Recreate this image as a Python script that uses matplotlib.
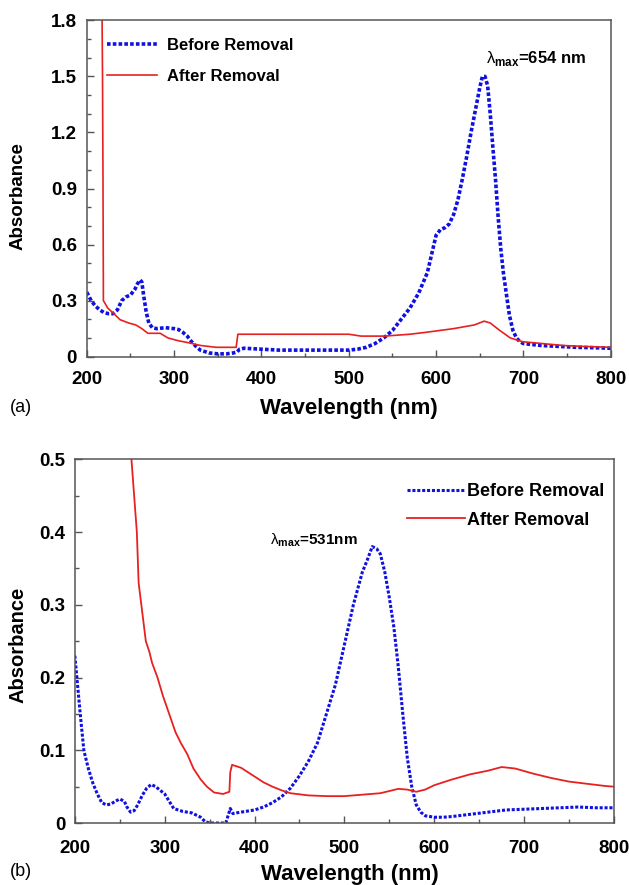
import matplotlib
matplotlib.use('Agg')
import matplotlib.pyplot as plt
from matplotlib.ticker import MultipleLocator

plt.rcParams['font.family'] = ['Liberation Sans', 'DejaVu Sans']
plt.rcParams['mathtext.fontset'] = 'custom'
plt.rcParams['mathtext.rm'] = 'Liberation Sans'
plt.rcParams['mathtext.bf'] = 'Liberation Sans:bold'

# panel (a)
before_a_wl = [200, 205, 210, 215, 220, 225, 230, 235, 240, 245, 250, 255, 258, 261, 263, 265, 268, 271,
               275, 280, 290, 300, 305, 310, 315, 320, 325, 330, 340, 350, 360, 368, 372, 375, 380, 400,
               420, 450, 480, 500, 510, 520, 530, 540, 550, 560, 570, 580, 590, 595, 600, 605, 610, 615,
               620, 625, 630, 635, 640, 645, 650, 653, 656, 659, 662, 665, 668, 671, 674, 677, 680, 684,
               688, 692, 696, 700, 710, 720, 740, 760, 780, 800]
before_a_abs = [0.345, 0.30, 0.27, 0.25, 0.235, 0.23, 0.23, 0.25, 0.30, 0.32, 0.33, 0.36, 0.39, 0.41, 0.40,
                0.33, 0.24, 0.18, 0.155, 0.15, 0.155, 0.15, 0.145, 0.13, 0.11, 0.08, 0.055, 0.035, 0.02,
                0.015, 0.015, 0.02, 0.025, 0.04, 0.045, 0.04, 0.035, 0.035, 0.035, 0.035, 0.04, 0.05, 0.07,
                0.1, 0.14, 0.2, 0.26, 0.34, 0.45, 0.55, 0.65, 0.68, 0.69, 0.71, 0.76, 0.84, 0.95, 1.07,
                1.2, 1.32, 1.44, 1.5, 1.5, 1.45, 1.3, 1.12, 0.95, 0.75, 0.58, 0.45, 0.35, 0.22, 0.14, 0.1,
                0.08, 0.07, 0.065, 0.06, 0.055, 0.05, 0.048, 0.045]
after_a_wl = [217.5, 218, 218.5, 219, 224, 231, 238, 248, 256, 263, 270, 284, 293, 305, 316, 330, 348, 371,
              373, 380, 420, 500, 514, 541, 570, 588, 620, 644, 655, 662, 673, 685, 699, 722, 745, 768, 800]
after_a_abs = [1.8, 1.5, 1.0, 0.3, 0.26, 0.23, 0.198, 0.18, 0.17, 0.15, 0.125, 0.125, 0.1, 0.085, 0.075,
               0.06, 0.05, 0.05, 0.12, 0.12, 0.12, 0.12, 0.11, 0.11, 0.12, 0.13, 0.15, 0.17, 0.19, 0.18,
               0.14, 0.1, 0.08, 0.07, 0.06, 0.055, 0.05]

# panel (b)
before_b_wl = [200, 203, 206, 210, 215, 220, 225, 230, 235, 240, 245, 250, 255, 258, 262, 266, 270, 275,
               280, 285, 290, 295, 300, 305, 310, 320, 330, 340, 345, 350, 360, 368, 371, 373, 376, 380,
               390, 400, 410, 420, 430, 440, 450, 460, 470, 480, 490, 500, 510, 520, 525, 531, 536, 540,
               545, 550, 555, 560, 565, 570, 575, 580, 585, 590, 600, 610, 620, 640, 660, 680, 700, 720,
               740, 760, 780, 800]
before_b_abs = [0.23, 0.19, 0.15, 0.1, 0.075, 0.055, 0.04, 0.028, 0.025, 0.026, 0.03, 0.033, 0.03, 0.022,
                0.015, 0.017, 0.025, 0.038, 0.048, 0.053, 0.05, 0.045, 0.04, 0.03, 0.02, 0.016, 0.014,
                0.008, 0.002, 0.0, 0.0, 0.0, 0.012, 0.02, 0.013, 0.014, 0.016, 0.018, 0.022, 0.028, 0.036,
                0.048, 0.065, 0.085, 0.11, 0.15, 0.19, 0.245, 0.3, 0.345, 0.36, 0.38, 0.377, 0.37, 0.345,
                0.31, 0.27, 0.215, 0.15, 0.09, 0.05, 0.025, 0.015, 0.01, 0.008, 0.008, 0.009, 0.012,
                0.015, 0.018, 0.019, 0.02, 0.021, 0.022, 0.021, 0.021]
after_b_wl = [263, 266, 269, 271, 274, 279, 283, 286, 292, 298, 305, 312, 318, 325, 332, 340, 347, 355,
              365, 372, 373, 375, 380, 385, 390, 400, 410, 420, 430, 440, 460, 480, 500, 520, 540, 550,
              560, 570, 580, 590, 600, 620, 640, 660, 675, 690, 710, 730, 750, 770, 790, 800]
after_b_abs = [0.5, 0.45, 0.4, 0.33, 0.3, 0.25, 0.235, 0.22, 0.2, 0.175, 0.15, 0.125, 0.11, 0.095, 0.075,
               0.06, 0.05, 0.042, 0.04, 0.043, 0.07, 0.08, 0.078, 0.076, 0.072, 0.064, 0.056, 0.05, 0.045,
               0.041, 0.038, 0.037, 0.037, 0.039, 0.041, 0.044, 0.047, 0.046, 0.043, 0.046, 0.052, 0.06,
               0.067, 0.072, 0.077, 0.075, 0.068, 0.062, 0.057, 0.054, 0.051, 0.05]

c_blue = '#1010e0'
c_red = '#e82020'
c_spine = '#555555'


def style_axes(ax, ymax, ystep, yminor, ylabels, xpad, ylab_size, xlab_xy, ylab_xy):
    ax.set_xlim(200, 800)
    ax.set_ylim(0, ymax)
    ax.xaxis.set_major_locator(MultipleLocator(100))
    ax.xaxis.set_minor_locator(MultipleLocator(50))
    ax.yaxis.set_minor_locator(MultipleLocator(yminor))
    ax.set_yticks([i * ystep for i in range(len(ylabels))], ylabels)
    ax.tick_params(which='both', direction='in', top=False, right=False, colors=c_spine,
                   labelcolor='black', labelsize=13.5, width=1)
    ax.tick_params(which='major', length=5)
    ax.tick_params(which='minor', length=3)
    ax.tick_params(axis='x', pad=xpad)
    ax.tick_params(axis='y', pad=7)
    for lab in ax.get_xticklabels() + ax.get_yticklabels():
        lab.set_fontweight('bold')
    for sp in ax.spines.values():
        sp.set_color(c_spine)
        sp.set_linewidth(1.1)
    ax.set_xlabel('Wavelength (nm)', fontsize=16, fontweight='bold', va='center')
    ax.set_ylabel('Absorbance', fontsize=ylab_size, fontweight='bold', va='center')
    ax.xaxis.set_label_coords(*xlab_xy)
    ax.yaxis.set_label_coords(*ylab_xy)


fig = plt.figure(figsize=(6.29, 8.85), dpi=100)

ax1 = fig.add_axes([0.138, 0.597, 0.833, 0.380])
ax1.plot(before_a_wl, before_a_abs, color=c_blue, lw=2.6, ls=(0, (1.0, 0.6)), label='Before Removal')
ax1.plot(after_a_wl, after_a_abs, color=c_red, lw=1.2, label='After Removal')
style_axes(ax1, 1.8, 0.3, 0.1, ['0', '0.3', '0.6', '0.9', '1.2', '1.5', '1.8'],
           10, 13.5, (0.5, -0.155), (-0.132, 0.479))
ax1.text(657, 1.596, r'$\mathrm{λ}_{\mathbf{max}}$=654 nm', fontsize=12, fontweight='bold', va='center')
ax1.legend(loc='upper left', bbox_to_anchor=(0.038, 0.948), frameon=False,
           handlelength=3.0, handletextpad=0.6, labelspacing=0.95, borderpad=0, borderaxespad=0,
           prop={'weight': 'bold', 'size': 12})
fig.text(0.016, 0.539, '(a)', fontsize=13, va='center')

ax2 = fig.add_axes([0.119, 0.070, 0.857, 0.411])
ax2.plot(before_b_wl, before_b_abs, color=c_blue, lw=2.2, ls=(0, (1.0, 0.6)), label='Before Removal')
ax2.plot(after_b_wl, after_b_abs, color=c_red, lw=1.3, label='After Removal')
style_axes(ax2, 0.5, 0.1, 0.05, ['0', '0.1', '0.2', '0.3', '0.4', '0.5'],
           12, 14.5, (0.51, -0.142), (-0.106, 0.489))
ax2.text(417, 0.389, r'$\mathrm{λ}_{\mathbf{max}}$=531nm', fontsize=11, fontweight='bold', va='center')
ax2.legend(loc='upper left', bbox_to_anchor=(0.616, 0.935), frameon=False,
           handlelength=3.2, handletextpad=0.15, labelspacing=0.65, borderpad=0, borderaxespad=0,
           prop={'weight': 'bold', 'size': 13})
fig.text(0.016, 0.015, '(b)', fontsize=13, va='center')

fig.savefig('out.png', dpi=100)
